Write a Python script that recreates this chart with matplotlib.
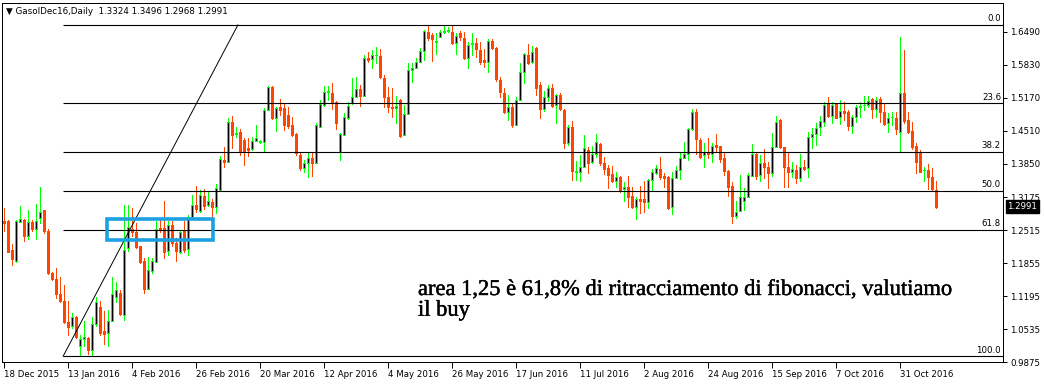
import matplotlib
matplotlib.use('Agg')
import matplotlib.pyplot as plt
import matplotlib.transforms as mtransforms
import matplotlib.patheffects as pe
from matplotlib.patches import Rectangle
import numpy as np

# daily candles, GasolDec16
opens = [
    1.271, 1.271, 1.211, 1.189, 1.269, 1.273, 1.241, 1.269, 1.255, 1.277,
    1.293, 1.251, 1.165, 1.153, 1.123, 1.109, 1.067, 1.059, 1.077, 1.019,
    1.033, 1.035, 1.011, 1.063, 1.097, 1.049, 1.045, 1.069, 1.117, 1.125,
    1.081, 1.215, 1.255, 1.249, 1.219, 1.189, 1.133, 1.169, 1.187, 1.257,
    1.257, 1.209, 1.263, 1.225, 1.207, 1.251, 1.213, 1.279, 1.303, 1.291,
    1.321, 1.303, 1.309, 1.299, 1.333, 1.393, 1.389, 1.469, 1.445, 1.449,
    1.433, 1.417, 1.415, 1.431, 1.429, 1.429, 1.493, 1.539, 1.477, 1.499,
    1.497, 1.483, 1.463, 1.445, 1.403, 1.377, 1.387, 1.397, 1.387, 1.459,
    1.503, 1.529, 1.527, 1.509, 1.409, 1.443, 1.477, 1.507, 1.519, 1.535,
    1.521, 1.597, 1.595, 1.603, 1.601, 1.557, 1.519, 1.499, 1.497, 1.513,
    1.443, 1.485, 1.573, 1.577, 1.589, 1.611, 1.649, 1.643, 1.629, 1.639,
    1.649, 1.651, 1.649, 1.627, 1.647, 1.637, 1.597, 1.625, 1.627, 1.613,
    1.593, 1.589, 1.631, 1.617, 1.553, 1.527, 1.489, 1.499, 1.463, 1.513,
    1.569, 1.603, 1.589, 1.617, 1.543, 1.495, 1.519, 1.537, 1.503, 1.523,
    1.493, 1.427, 1.459, 1.369, 1.369, 1.379, 1.413, 1.389, 1.405, 1.425,
    1.387, 1.377, 1.365, 1.351, 1.359, 1.335, 1.339, 1.321, 1.299, 1.315,
    1.315, 1.309, 1.353, 1.367, 1.375, 1.361, 1.359, 1.299, 1.357, 1.373,
    1.397, 1.405, 1.455, 1.489, 1.433, 1.403, 1.407, 1.405, 1.423, 1.421,
    1.397, 1.371, 1.341, 1.281, 1.291, 1.311, 1.319, 1.361, 1.405, 1.363,
    1.387, 1.379, 1.367, 1.419, 1.473, 1.419, 1.379, 1.369, 1.373, 1.357,
    1.379, 1.377, 1.439, 1.445, 1.459, 1.469, 1.505, 1.481, 1.505, 1.479,
    1.491, 1.489, 1.461, 1.479, 1.499, 1.503, 1.503, 1.515, 1.495, 1.515,
    1.489, 1.467, 1.479, 1.477, 1.449, 1.527, 1.473, 1.451, 1.421, 1.407,
    1.373, 1.373, 1.359, 1.3324]
highs = [
    1.297, 1.273, 1.223, 1.273, 1.301, 1.275, 1.293, 1.273, 1.305, 1.339,
    1.293, 1.255, 1.167, 1.175, 1.157, 1.141, 1.109, 1.085, 1.079, 1.041,
    1.069, 1.037, 1.077, 1.117, 1.109, 1.089, 1.091, 1.157, 1.147, 1.131,
    1.303, 1.303, 1.297, 1.267, 1.219, 1.195, 1.197, 1.195, 1.271, 1.273,
    1.311, 1.271, 1.271, 1.237, 1.253, 1.271, 1.283, 1.323, 1.341, 1.333,
    1.335, 1.331, 1.315, 1.345, 1.401, 1.419, 1.477, 1.481, 1.459, 1.455,
    1.437, 1.437, 1.439, 1.463, 1.433, 1.497, 1.541, 1.541, 1.499, 1.515,
    1.507, 1.499, 1.479, 1.447, 1.407, 1.393, 1.409, 1.409, 1.467, 1.513,
    1.541, 1.541, 1.547, 1.511, 1.447, 1.487, 1.509, 1.557, 1.559, 1.543,
    1.603, 1.609, 1.613, 1.619, 1.615, 1.563, 1.539, 1.537, 1.521, 1.515,
    1.503, 1.587, 1.587, 1.597, 1.617, 1.653, 1.663, 1.647, 1.647, 1.653,
    1.663, 1.659, 1.663, 1.647, 1.651, 1.649, 1.629, 1.647, 1.637, 1.629,
    1.615, 1.635, 1.635, 1.619, 1.559, 1.537, 1.523, 1.507, 1.519, 1.587,
    1.607, 1.625, 1.621, 1.619, 1.549, 1.531, 1.543, 1.545, 1.525, 1.527,
    1.495, 1.463, 1.471, 1.391, 1.403, 1.443, 1.419, 1.421, 1.445, 1.427,
    1.399, 1.383, 1.381, 1.369, 1.361, 1.349, 1.361, 1.339, 1.319, 1.341,
    1.351, 1.355, 1.375, 1.383, 1.399, 1.367, 1.361, 1.369, 1.381, 1.407,
    1.429, 1.457, 1.495, 1.495, 1.437, 1.427, 1.437, 1.427, 1.445, 1.421,
    1.407, 1.373, 1.349, 1.311, 1.363, 1.337, 1.367, 1.425, 1.407, 1.403,
    1.415, 1.389, 1.447, 1.481, 1.475, 1.419, 1.407, 1.389, 1.383, 1.405,
    1.393, 1.449, 1.457, 1.467, 1.481, 1.509, 1.519, 1.509, 1.507, 1.513,
    1.509, 1.493, 1.483, 1.503, 1.509, 1.521, 1.521, 1.517, 1.519, 1.519,
    1.505, 1.487, 1.489, 1.489, 1.639, 1.613, 1.489, 1.469, 1.427, 1.413,
    1.379, 1.385, 1.377, 1.3496]
lows = [
    1.251, 1.207, 1.181, 1.187, 1.269, 1.231, 1.235, 1.251, 1.235, 1.267,
    1.247, 1.163, 1.151, 1.115, 1.107, 1.065, 1.041, 1.055, 1.035, 1.001,
    1.019, 1.003, 1.001, 1.059, 1.041, 1.023, 1.019, 1.069, 1.107, 1.081,
    1.071, 1.209, 1.241, 1.215, 1.185, 1.125, 1.133, 1.165, 1.187, 1.249,
    1.195, 1.201, 1.219, 1.189, 1.205, 1.207, 1.201, 1.277, 1.289, 1.289,
    1.295, 1.301, 1.277, 1.287, 1.333, 1.379, 1.389, 1.417, 1.439, 1.403,
    1.383, 1.401, 1.413, 1.431, 1.427, 1.409, 1.493, 1.475, 1.451, 1.483,
    1.453, 1.457, 1.441, 1.403, 1.373, 1.369, 1.359, 1.361, 1.387, 1.459,
    1.501, 1.513, 1.495, 1.455, 1.393, 1.443, 1.475, 1.505, 1.519, 1.501,
    1.521, 1.589, 1.577, 1.587, 1.557, 1.499, 1.489, 1.479, 1.467, 1.439,
    1.443, 1.485, 1.549, 1.577, 1.589, 1.593, 1.633, 1.591, 1.605, 1.639,
    1.647, 1.649, 1.625, 1.605, 1.633, 1.595, 1.577, 1.603, 1.599, 1.585,
    1.579, 1.569, 1.615, 1.551, 1.519, 1.487, 1.473, 1.459, 1.463, 1.513,
    1.547, 1.585, 1.587, 1.523, 1.477, 1.491, 1.511, 1.499, 1.467, 1.493,
    1.417, 1.423, 1.353, 1.353, 1.351, 1.379, 1.367, 1.387, 1.399, 1.383,
    1.365, 1.337, 1.349, 1.339, 1.329, 1.311, 1.299, 1.297, 1.275, 1.287,
    1.289, 1.297, 1.333, 1.365, 1.355, 1.339, 1.295, 1.285, 1.357, 1.355,
    1.397, 1.393, 1.453, 1.405, 1.397, 1.379, 1.397, 1.389, 1.409, 1.389,
    1.363, 1.321, 1.267, 1.277, 1.291, 1.293, 1.319, 1.361, 1.355, 1.351,
    1.357, 1.337, 1.361, 1.419, 1.417, 1.339, 1.339, 1.359, 1.347, 1.351,
    1.373, 1.359, 1.417, 1.423, 1.443, 1.461, 1.479, 1.467, 1.477, 1.465,
    1.473, 1.453, 1.447, 1.469, 1.479, 1.493, 1.499, 1.477, 1.479, 1.469,
    1.463, 1.449, 1.463, 1.445, 1.411, 1.467, 1.447, 1.415, 1.367, 1.369,
    1.351, 1.335, 1.333, 1.2968]
closes = [
    1.267, 1.207, 1.193, 1.271, 1.275, 1.241, 1.269, 1.255, 1.271, 1.289,
    1.251, 1.165, 1.153, 1.123, 1.109, 1.067, 1.057, 1.077, 1.037, 1.033,
    1.037, 1.011, 1.063, 1.107, 1.045, 1.043, 1.069, 1.123, 1.131, 1.083,
    1.211, 1.259, 1.249, 1.217, 1.187, 1.133, 1.171, 1.189, 1.255, 1.255,
    1.207, 1.263, 1.225, 1.209, 1.249, 1.211, 1.279, 1.303, 1.295, 1.323,
    1.301, 1.311, 1.299, 1.337, 1.395, 1.389, 1.469, 1.443, 1.447, 1.411,
    1.409, 1.413, 1.431, 1.437, 1.431, 1.493, 1.539, 1.477, 1.497, 1.493,
    1.463, 1.461, 1.443, 1.407, 1.377, 1.387, 1.397, 1.387, 1.463, 1.505,
    1.529, 1.531, 1.507, 1.467, 1.445, 1.479, 1.501, 1.519, 1.535, 1.521,
    1.597, 1.593, 1.603, 1.603, 1.559, 1.519, 1.499, 1.497, 1.501, 1.441,
    1.485, 1.573, 1.577, 1.589, 1.611, 1.651, 1.637, 1.635, 1.631, 1.649,
    1.651, 1.653, 1.627, 1.641, 1.639, 1.597, 1.623, 1.627, 1.615, 1.589,
    1.589, 1.631, 1.617, 1.555, 1.529, 1.489, 1.499, 1.463, 1.513, 1.569,
    1.605, 1.587, 1.609, 1.537, 1.495, 1.519, 1.537, 1.501, 1.523, 1.495,
    1.427, 1.459, 1.371, 1.371, 1.379, 1.417, 1.387, 1.405, 1.429, 1.387,
    1.375, 1.363, 1.351, 1.359, 1.333, 1.339, 1.319, 1.299, 1.315, 1.311,
    1.309, 1.353, 1.369, 1.377, 1.359, 1.357, 1.297, 1.357, 1.373, 1.397,
    1.405, 1.455, 1.489, 1.435, 1.399, 1.409, 1.405, 1.421, 1.419, 1.395,
    1.371, 1.339, 1.281, 1.289, 1.319, 1.319, 1.363, 1.405, 1.361, 1.387,
    1.379, 1.367, 1.419, 1.469, 1.419, 1.379, 1.369, 1.375, 1.357, 1.379,
    1.375, 1.439, 1.445, 1.457, 1.471, 1.503, 1.481, 1.503, 1.477, 1.491,
    1.487, 1.461, 1.479, 1.499, 1.501, 1.503, 1.511, 1.495, 1.513, 1.489,
    1.465, 1.477, 1.479, 1.455, 1.527, 1.471, 1.449, 1.419, 1.389, 1.369,
    1.373, 1.359, 1.335, 1.2991]

date_labels = ['18 Dec 2015', '13 Jan 2016', '4 Feb 2016', '26 Feb 2016', '20 Mar 2016',
               '12 Apr 2016', '4 May 2016', '26 May 2016', '17 Jun 2016', '11 Jul 2016',
               '2 Aug 2016', '24 Aug 2016', '15 Sep 2016', '7 Oct 2016', '31 Oct 2016']
price_ticks = [1.6490, 1.5830, 1.5170, 1.4510, 1.3850, 1.3175, 1.2515, 1.1855, 1.1195, 1.0535, 0.9875]

# fibonacci retracement object
fib_levels = [0.0, 23.6, 38.2, 50.0, 61.8, 100.0]
fib_low, fib_high = 0.999, 1.663
fib_start, fib_end = 14.9, 58.6
# blue box around the 61.8 area
box_x = (25.9, 52.4)
box_y = (1.233, 1.275)
note = "area 1,25 è 61,8% di ritracciamento di fibonacci, valutiamo\nil buy"

BULL = '#00ff00'
BEAR = '#ff4500'
PX = 0.72  # one pixel in points

W, H = 1044, 385
fig = plt.figure(figsize=(W / 100, H / 100), dpi=100)
ax = fig.add_axes([2 / W, (H - 362) / H, 1001 / W, 359 / H])

o = np.array(opens); h = np.array(highs); l = np.array(lows); c = np.array(closes)
x = np.arange(len(o))
up = c >= o
dn = ~up

ax.vlines(x[up], l[up], h[up], color=BULL, lw=PX, antialiased=False, zorder=2)
ax.vlines(x[dn], l[dn], h[dn], color=BEAR, lw=PX, antialiased=False, zorder=2)
ax.bar(x[up], (c - o)[up], bottom=o[up], width=0.5, facecolor='black',
       edgecolor=BULL, linewidth=PX, antialiased=False, zorder=3)
ax.bar(x[dn], (c - o)[dn], bottom=o[dn], width=0.5, facecolor=BEAR,
       edgecolor=BEAR, linewidth=PX, antialiased=False, zorder=3)

xmax = 250
ax.set_xlim(-0.375, 249.875)
ax.set_ylim(0.989, 1.707)

# fib lines + labels
lab_tr = mtransforms.blended_transform_factory(ax.transAxes, ax.transData)
for lev in fib_levels:
    p = fib_high - lev / 100 * (fib_high - fib_low)
    ax.hlines(p, fib_start, xmax, color='black', lw=0.8, zorder=4)
    ax.text(0.998, p + 0.003, '%.1f' % lev, transform=lab_tr, ha='right', va='bottom',
            fontsize=6.2, color='black')
ax.plot([fib_start, fib_end], [fib_low, fib_high], color='black', lw=0.7, zorder=4)

ax.add_patch(Rectangle((box_x[0], box_y[0]), box_x[1] - box_x[0], box_y[1] - box_y[0],
                       fill=False, edgecolor='#1ba1e2', lw=2.6, zorder=5))

# axes look like the terminal
for s in ax.spines.values():
    s.set_linewidth(PX)
ax.yaxis.tick_right()
ax.set_yticks(price_ticks)
ax.set_yticklabels(['%.4f' % v for v in price_ticks])
ax.tick_params(axis='y', direction='out', length=3, width=PX, labelsize=6.2, pad=2)
ax.set_xticks(np.arange(len(date_labels)) * 16)
ax.set_xticklabels(date_labels, ha='left')
ax.tick_params(axis='x', direction='out', length=4, width=PX, labelsize=6.2, pad=2)

ax.text(1.0045, closes[-1], '%.4f' % closes[-1], transform=lab_tr, ha='left', va='center',
        color='white', fontsize=6.2,
        bbox=dict(facecolor='black', edgecolor='black', pad=1.2), clip_on=False, zorder=6)

fig.text(6 / W, 1 - 12 / H, '\u25bc GasolDec16,Daily  %.4f %.4f %.4f %.4f' % (o[-1], h[-1], l[-1], c[-1]),
         fontsize=6.3, va='center', ha='left')
fig.text(418 / W, 1 - 281 / H, note, family='Liberation Serif', fontsize=16.2,
         va='top', ha='left', linespacing=1.12,
         path_effects=[pe.withStroke(linewidth=0.3, foreground='black')])

fig.savefig('out.png', dpi=100)
